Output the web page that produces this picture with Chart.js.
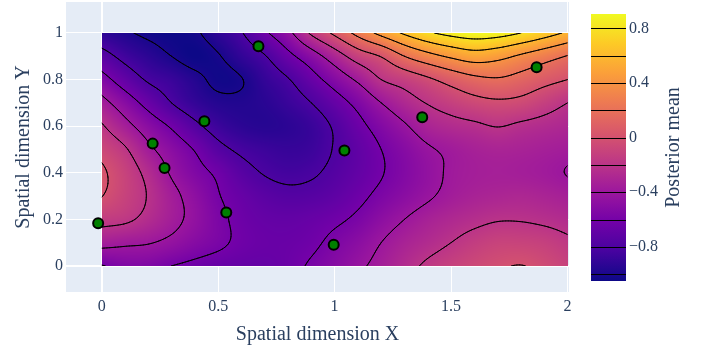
<!DOCTYPE html>
<html>
<head>
<meta charset="utf-8">
<script src="https://cdn.jsdelivr.net/npm/chart.js@4.4.1/dist/chart.umd.min.js"></script>
<style>
  html, body { margin: 0; padding: 0; background: #ffffff; }
</style>
</head>
<body>
<canvas id="myChart" width="712" height="350"></canvas>
<script>
// grid of the posterior mean surface
const gridX = [0, 0.1, 0.2, 0.3, 0.4, 0.5, 0.6, 0.7, 0.8, 0.9, 1, 1.1, 1.2, 1.3, 1.4, 1.5, 1.6, 1.7, 1.8, 1.9, 2];
const gridY = [0, 0.1, 0.2, 0.3, 0.4, 0.5, 0.6, 0.7, 0.8, 0.9, 1];

// posterior mean, one row per gridY value (bottom row first)
const meanZ = [
  [-0.61, -0.55, -0.55, -0.60, -0.64, -0.67, -0.68, -0.68, -0.65, -0.58, -0.51, -0.43, -0.35, -0.26, -0.17, -0.11, -0.06, -0.02, 0.004, -0.04, -0.10],
  [-0.34, -0.37, -0.39, -0.44, -0.51, -0.57, -0.63, -0.66, -0.66, -0.63, -0.56, -0.49, -0.40, -0.32, -0.26, -0.20, -0.14, -0.10, -0.10, -0.12, -0.17],
  [-0.14, -0.17, -0.25, -0.35, -0.45, -0.56, -0.64, -0.68, -0.69, -0.67, -0.63, -0.57, -0.48, -0.40, -0.33, -0.28, -0.24, -0.21, -0.21, -0.23, -0.26],
  [0.005, -0.10, -0.21, -0.35, -0.47, -0.59, -0.67, -0.73, -0.76, -0.75, -0.71, -0.64, -0.56, -0.49, -0.42, -0.36, -0.32, -0.30, -0.29, -0.31, -0.34],
  [0.03, -0.10, -0.25, -0.42, -0.54, -0.63, -0.74, -0.81, -0.84, -0.82, -0.76, -0.69, -0.61, -0.53, -0.45, -0.38, -0.35, -0.34, -0.35, -0.37, -0.405],
  [-0.06, -0.18, -0.36, -0.49, -0.61, -0.75, -0.83, -0.87, -0.89, -0.87, -0.79, -0.70, -0.60, -0.51, -0.42, -0.37, -0.33, -0.31, -0.32, -0.34, -0.36],
  [-0.18, -0.34, -0.49, -0.62, -0.76, -0.87, -0.93, -0.95, -0.93, -0.88, -0.78, -0.65, -0.53, -0.42, -0.31, -0.26, -0.23, -0.195, -0.23, -0.26, -0.29],
  [-0.34, -0.50, -0.66, -0.80, -0.90, -0.96, -0.97, -0.94, -0.88, -0.80, -0.68, -0.55, -0.40, -0.28, -0.19, -0.12, -0.06, -0.03, -0.05, -0.12, -0.20],
  [-0.53, -0.69, -0.82, -0.88, -0.96, -1.03, -1.005, -0.90, -0.81, -0.67, -0.52, -0.37, -0.20, -0.12, -0.03, 0.07, 0.15, 0.18, 0.13, 0.06, 0.00],
  [-0.73, -0.85, -0.93, -1.00, -1.05, -1.01, -0.91, -0.81, -0.65, -0.49, -0.30, -0.11, 0.01, 0.20, 0.33, 0.43, 0.50, 0.46, 0.37, 0.28, 0.19],
  [-0.93, -0.98, -1.03, -1.05, -1.02, -0.92, -0.81, -0.63, -0.45, -0.17, 0.04, 0.26, 0.46, 0.63, 0.77, 0.86, 0.905, 0.88, 0.80, 0.69, 0.57]
];

// observed sample locations
const sampleX = [-0.015, 0.219, 0.270, 0.441, 0.673, 0.535, 1.042, 0.996, 1.376, 1.867];
const sampleY = [0.183, 0.525, 0.420, 0.621, 0.943, 0.229, 0.495, 0.091, 0.638, 0.853];

const contourLevels = [-1, -0.8, -0.6, -0.4, -0.2, 0, 0.2, 0.4, 0.6, 0.8];
const xTicks = [0, 0.5, 1, 1.5, 2];
const yTicks = [0, 0.2, 0.4, 0.6, 0.8, 1];
const colorbarTicks = [0.8, 0.4, 0, -0.4, -0.8];

const plasmaStops = ['#0d0887', '#46039f', '#7201a8', '#9c179e', '#bd3786', '#d8576b', '#ed7953', '#fb9f3a', '#fdca26', '#f0f921'];
const FONT = '"Liberation Serif", "Times New Roman", serif';
const TEXT = '#2a3f5f';

const zMin = Math.min(...meanZ.flat());
const zMax = Math.max(...meanZ.flat());
const plasmaRgb = plasmaStops.map(h => [1, 3, 5].map(k => parseInt(h.slice(k, k + 2), 16)));

function plasma(t) {
    t = Math.max(0, Math.min(1, t));
    const s = t * (plasmaRgb.length - 1);
    const k = Math.min(Math.floor(s), plasmaRgb.length - 2);
    const f = s - k;
    return plasmaRgb[k].map((c, n) => Math.round(c + (plasmaRgb[k + 1][n] - c) * f));
}

function zAt(i, j) {
    const nx = gridX.length, ny = gridY.length;
    if (i < 0) return 2 * zAt(0, j) - zAt(1, j);
    if (i > nx - 1) return 2 * zAt(nx - 1, j) - zAt(nx - 2, j);
    if (j < 0) return 2 * zAt(i, 0) - zAt(i, 1);
    if (j > ny - 1) return 2 * zAt(i, ny - 1) - zAt(i, ny - 2);
    return meanZ[j][i];
}

function catmull(p0, p1, p2, p3, t) {
    return p1 + 0.5 * t * (p2 - p0 + t * (2 * p0 - 5 * p1 + 4 * p2 - p3 + t * (3 * (p1 - p2) + p3 - p0)));
}

// smooth reading of the grid for drawing (like zsmooth)
function surface(xv, yv) {
    let u = (xv - gridX[0]) / (gridX[1] - gridX[0]);
    let v = (yv - gridY[0]) / (gridY[1] - gridY[0]);
    u = Math.max(0, Math.min(gridX.length - 1, u));
    v = Math.max(0, Math.min(gridY.length - 1, v));
    const i = Math.min(Math.floor(u), gridX.length - 2);
    const j = Math.min(Math.floor(v), gridY.length - 2);
    const col = [];
    for (let k = -1; k <= 2; k++) {
        col.push(catmull(zAt(i - 1, j + k), zAt(i, j + k), zAt(i + 1, j + k), zAt(i + 2, j + k), u - i));
    }
    return catmull(col[0], col[1], col[2], col[3], v - j);
}

const plotBg = {
    id: 'plotBg',
    beforeDraw(chart) {
        const {ctx, chartArea: a} = chart;
        ctx.save();
        ctx.fillStyle = '#E5ECF6';
        ctx.fillRect(a.left, a.top, a.right - a.left, a.bottom - a.top);
        ctx.restore();
    }
};

const heatmap = {
    id: 'heatmap',
    beforeDatasetsDraw(chart) {
        const {ctx, scales: {x, y}} = chart;
        const left = x.getPixelForValue(gridX[0]);
        const right = x.getPixelForValue(gridX[gridX.length - 1]);
        const top = y.getPixelForValue(gridY[gridY.length - 1]);
        const bottom = y.getPixelForValue(gridY[0]);
        const w = Math.round(right - left), h = Math.round(bottom - top);

        const off = document.createElement('canvas');
        off.width = w; off.height = h;
        const octx = off.getContext('2d');
        const img = octx.createImageData(w, h);
        for (let r = 0; r < h; r++) {
            const yv = y.getValueForPixel(top + (r + 0.5) * (bottom - top) / h);
            for (let c = 0; c < w; c++) {
                const xv = x.getValueForPixel(left + (c + 0.5) * (right - left) / w);
                const rgb = plasma((surface(xv, yv) - zMin) / (zMax - zMin));
                const p = (r * w + c) * 4;
                img.data[p] = rgb[0]; img.data[p + 1] = rgb[1]; img.data[p + 2] = rgb[2]; img.data[p + 3] = 255;
            }
        }
        octx.putImageData(img, 0, 0);
        ctx.save();
        ctx.drawImage(off, left, top, right - left, bottom - top);

        // contour lines by marching squares on a fine sampling of the surface
        const NX = 301, NY = 151;
        const x0 = gridX[0], x1 = gridX[gridX.length - 1];
        const y0 = gridY[0], y1 = gridY[gridY.length - 1];
        const fx = [], fy = [], f = [];
        for (let i = 0; i < NX; i++) fx.push(x0 + (x1 - x0) * i / (NX - 1));
        for (let j = 0; j < NY; j++) fy.push(y0 + (y1 - y0) * j / (NY - 1));
        for (let j = 0; j < NY; j++) f.push(fx.map(xv => surface(xv, fy[j])));

        ctx.beginPath();
        ctx.rect(left, top, right - left, bottom - top);
        ctx.clip();
        ctx.strokeStyle = '#000000';
        ctx.lineWidth = 1;
        ctx.lineCap = 'round';
        const P = (xv, yv) => [x.getPixelForValue(xv), y.getPixelForValue(yv)];
        contourLevels.forEach(level => {
            ctx.beginPath();
            for (let j = 0; j < NY - 1; j++) {
                for (let i = 0; i < NX - 1; i++) {
                    const a = f[j][i], b = f[j][i + 1], c = f[j + 1][i + 1], d = f[j + 1][i];
                    const e = [];
                    const cross = (va, vb, xa, ya, xb, yb) => {
                        if ((va > level) !== (vb > level)) {
                            const t = (level - va) / (vb - va);
                            return P(xa + (xb - xa) * t, ya + (yb - ya) * t);
                        }
                        return null;
                    };
                    e[0] = cross(a, b, fx[i], fy[j], fx[i + 1], fy[j]);
                    e[1] = cross(b, c, fx[i + 1], fy[j], fx[i + 1], fy[j + 1]);
                    e[2] = cross(d, c, fx[i], fy[j + 1], fx[i + 1], fy[j + 1]);
                    e[3] = cross(a, d, fx[i], fy[j], fx[i], fy[j + 1]);
                    const pts = e.filter(Boolean);
                    if (pts.length === 2) {
                        ctx.moveTo(pts[0][0], pts[0][1]);
                        ctx.lineTo(pts[1][0], pts[1][1]);
                    } else if (pts.length === 4) {
                        const centre = (a + b + c + d) / 4;
                        const pairs = ((a > level) === (centre > level)) ? [[0, 1], [2, 3]] : [[3, 0], [1, 2]];
                        pairs.forEach(([m, n]) => {
                            ctx.moveTo(e[m][0], e[m][1]);
                            ctx.lineTo(e[n][0], e[n][1]);
                        });
                    }
                }
            }
            ctx.stroke();
        });
        ctx.restore();
    }
};

const colorbar = {
    id: 'colorbar',
    afterDraw(chart) {
        const {ctx, chartArea: a} = chart;
        const barL = a.right + 22, barW = 35;
        const barT = a.top + 12, barB = a.bottom - 11;
        const toPx = v => barB - (v - zMin) / (zMax - zMin) * (barB - barT);
        ctx.save();
        const grad = ctx.createLinearGradient(0, barB, 0, barT);
        plasmaStops.forEach((c, k) => grad.addColorStop(k / (plasmaStops.length - 1), c));
        ctx.fillStyle = grad;
        ctx.fillRect(barL, barT, barW, barB - barT);

        ctx.strokeStyle = '#000000';
        ctx.lineWidth = 1;
        contourLevels.forEach(level => {
            const py = Math.round(toPx(level)) + 0.5;
            ctx.beginPath();
            ctx.moveTo(barL, py);
            ctx.lineTo(barL + barW, py);
            ctx.stroke();
        });

        ctx.fillStyle = TEXT;
        ctx.font = '16px ' + FONT;
        ctx.textAlign = 'left';
        ctx.textBaseline = 'middle';
        colorbarTicks.forEach(v => {
            const label = v < 0 ? '\u2212' + Math.abs(v) : String(v);
            ctx.fillText(label, barL + barW + 3, toPx(v));
        });

        ctx.font = '20px ' + FONT;
        ctx.translate(barL + barW + 48, (barT + barB) / 2);
        ctx.rotate(-Math.PI / 2);
        ctx.textAlign = 'center';
        ctx.fillText('Posterior mean', 0, 0);
        ctx.restore();
    }
};

function renderChart() {
    const ctx = document.getElementById('myChart').getContext('2d');
    const points = sampleX.map((xv, i) => ({x: xv, y: sampleY[i]}));
    new Chart(ctx, {
        type: 'scatter',
        data: {
            datasets: [{
                label: 'Samples',
                data: points,
                backgroundColor: '#008000',
                borderColor: '#000000',
                borderWidth: 2,
                pointRadius: 5,
                pointHoverRadius: 5
            }]
        },
        options: {
            responsive: false,
            animation: false,
            devicePixelRatio: 1,
            events: [],
            layout: { autoPadding: false, padding: { left: 0, right: 143, top: 2, bottom: 0 } },
            plugins: { legend: { display: false }, tooltip: { enabled: false } },
            scales: {
                x: {
                    type: 'linear',
                    min: -0.153,
                    max: 2.006,
                    afterBuildTicks: s => { s.ticks = xTicks.map(v => ({value: v})); },
                    afterFit: s => { s.height = 58; s.paddingLeft = 0; s.paddingRight = 0; },
                    border: { display: false },
                    grid: {
                        color: '#ffffff',
                        lineWidth: c => (c.tick && c.tick.value === 0 ? 2 : 1),
                        drawTicks: false
                    },
                    ticks: {
                        padding: 5,
                        color: TEXT,
                        font: { family: FONT, size: 16 },
                        maxRotation: 0,
                        callback: v => String(v)
                    },
                    title: {
                        display: true,
                        text: 'Spatial dimension X',
                        color: TEXT,
                        font: { family: FONT, size: 20 },
                        padding: { top: 0, bottom: 3 }
                    }
                },
                y: {
                    type: 'linear',
                    min: -0.112,
                    max: 1.133,
                    afterBuildTicks: s => { s.ticks = yTicks.map(v => ({value: v})); },
                    afterFit: s => { s.width = 66; s.paddingTop = 0; s.paddingBottom = 0; },
                    border: { display: false },
                    grid: {
                        color: '#ffffff',
                        lineWidth: c => (c.tick && c.tick.value === 0 ? 2 : 1),
                        drawTicks: false
                    },
                    ticks: {
                        padding: 3,
                        color: TEXT,
                        font: { family: FONT, size: 16 },
                        callback: v => String(v)
                    },
                    title: {
                        display: true,
                        text: 'Spatial dimension Y',
                        color: TEXT,
                        font: { family: FONT, size: 20 },
                        padding: { top: 12, bottom: 0 }
                    }
                }
            }
        },
        plugins: [plotBg, heatmap, colorbar]
    });
}

renderChart();
</script>
</body>
</html>
